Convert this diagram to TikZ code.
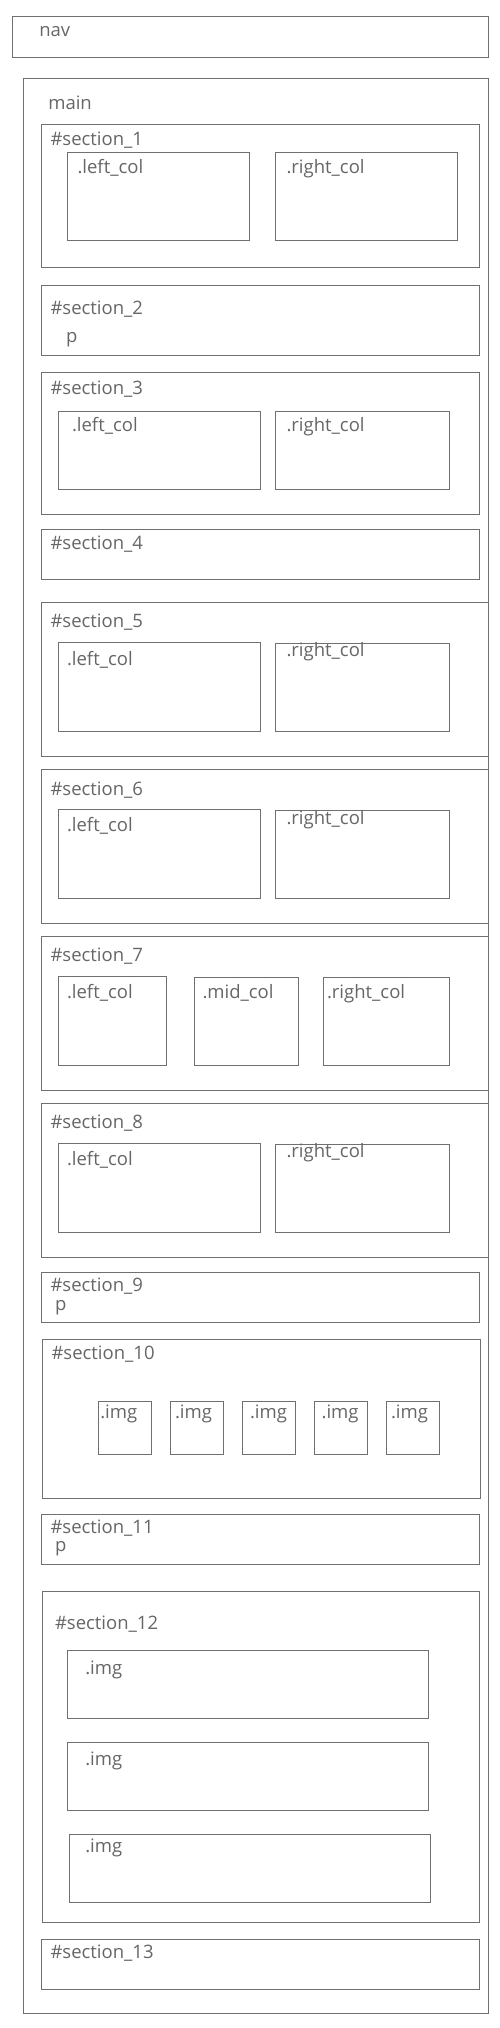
\documentclass[tikz,border=0pt]{standalone}
\usepackage{fontspec}
\setmainfont{Open Sans}
\definecolor{linegray}{HTML}{707070}
\definecolor{textgray}{HTML}{666666}
\tikzset{
  box/.style={draw=linegray, line width=1.1pt},
  lbl/.style={anchor=base west, inner sep=0pt, outer sep=0pt, text=textgray, font=\fontsize{18.5pt}{20pt}\selectfont},
}
\begin{document}
\begin{tikzpicture}[x=1pt,y=-1pt]
\useasboundingbox (0,0) rectangle (500,2028);
% nav
\draw[box] (12.3,16.3) rectangle (488.7,57.3);
\node[lbl] (navl) at (39.3,36.7) {nav};
% main
\draw[box] (23.3,78.7) rectangle (488.7,2013.3);
\node[lbl] (mainl) at (48.3,110) {main};
% section 1
\draw[box] (41.3,124.3) rectangle (479.7,267.3);
\node[lbl] (s1) at (50.5,146) {\#section\_1};
\draw[box] (67.3,152.7) rectangle (249.7,240.3);
\node[lbl] (s1l) at (77.5,174) {.left\_col};
\draw[box] (275.3,152.7) rectangle (457.7,240.3);
\node[lbl] (s1r) at (286.5,174) {.right\_col};
% section 2
\draw[box] (41.3,285.3) rectangle (479.7,355.3);
\node[lbl] (s2) at (50.5,314) {\#section\_2};
\node[lbl] (s2p) at (66,342) {p};
% section 3
\draw[box] (41.3,372.7) rectangle (479.7,514.3);
\node[lbl] (s3) at (50.5,394) {\#section\_3};
\draw[box] (58.3,411.7) rectangle (260.7,489.3);
\node[lbl] (s3l) at (72,431.3) {.left\_col};
\draw[box] (275.3,411.7) rectangle (449.7,489.3);
\node[lbl] (s3r) at (286.5,431.3) {.right\_col};
% section 4
\draw[box] (41.3,529.3) rectangle (479.7,579.3);
\node[lbl] (s4) at (50.5,549) {\#section\_4};
% section 5
\draw[box] (41.3,602.3) rectangle (488.7,756.3);
\node[lbl] (s5) at (50.5,627.7) {\#section\_5};
\draw[box] (58.3,642.7) rectangle (260.7,731.3);
\node[lbl] (s5l) at (67,665) {.left\_col};
\draw[box] (275.3,643.7) rectangle (449.7,731.3);
\node[lbl] (s5r) at (286.5,656.7) {.right\_col};
% section 6
\draw[box] (41.3,769.7) rectangle (488.7,923.3);
\node[lbl] (s6) at (50.5,795) {\#section\_6};
\draw[box] (58.3,809.7) rectangle (260.7,898.3);
\node[lbl] (s6l) at (67,831.7) {.left\_col};
\draw[box] (275.3,810.7) rectangle (449.7,898.3);
\node[lbl] (s6r) at (286.5,824) {.right\_col};
% section 7
\draw[box] (41.3,936.7) rectangle (488.7,1090.3);
\node[lbl] (s7) at (50.5,961.7) {\#section\_7};
\draw[box] (58.3,976.7) rectangle (166.7,1065.3);
\node[lbl] (s7l) at (67,998.3) {.left\_col};
\draw[box] (194.3,977.7) rectangle (298.7,1065.3);
\node[lbl] (s7m) at (202.5,998.3) {.mid\_col};
\draw[box] (323.3,977.7) rectangle (449.7,1065.3);
\node[lbl] (s7r) at (327,998.3) {.right\_col};
% section 8
\draw[box] (41.3,1103.7) rectangle (488.7,1257.3);
\node[lbl] (s8) at (50.5,1128.3) {\#section\_8};
\draw[box] (58.3,1143.3) rectangle (260.7,1232.3);
\node[lbl] (s8l) at (67,1165.7) {.left\_col};
\draw[box] (275.3,1144.3) rectangle (449.7,1232.3);
\node[lbl] (s8r) at (286.5,1157.7) {.right\_col};
% section 9
\draw[box] (41.3,1272.3) rectangle (479.7,1322.3);
\node[lbl] (s9) at (50.5,1291) {\#section\_9};
\node[lbl] (s9p) at (55,1310) {p};
% section 10
\draw[box] (42.3,1339.3) rectangle (480.7,1498.3);
\node[lbl] (s10) at (51.5,1359) {\#section\_10};
\draw[box] (98.3,1401.3) rectangle (151.7,1454.3);
\node[lbl] (s10a) at (100.3,1418.3) {.img};
\draw[box] (170.3,1401.3) rectangle (223.7,1454.3);
\node[lbl] (s10b) at (175,1418.3) {.img};
\draw[box] (242.3,1401.3) rectangle (295.7,1454.3);
\node[lbl] (s10c) at (250,1418.3) {.img};
\draw[box] (314.3,1401.3) rectangle (367.7,1454.3);
\node[lbl] (s10d) at (321.6,1418.3) {.img};
\draw[box] (386.3,1401.3) rectangle (439.7,1454.3);
\node[lbl] (s10e) at (391,1418.3) {.img};
% section 11
\draw[box] (41.3,1514.3) rectangle (479.7,1564.3);
\node[lbl] (s11) at (50.5,1533.3) {\#section\_11};
\node[lbl] (s11p) at (55,1551.7) {p};
% section 12
\draw[box] (42.3,1591.3) rectangle (479.7,1922.3);
\node[lbl] (s12) at (55,1629) {\#section\_12};
\draw[box] (67.3,1650.3) rectangle (428.7,1718.3);
\node[lbl] (s12a) at (85.3,1674.3) {.img};
\draw[box] (67.3,1742.3) rectangle (428.7,1810.3);
\node[lbl] (s12b) at (85.3,1765.7) {.img};
\draw[box] (69.3,1834.7) rectangle (430.7,1902.3);
\node[lbl] (s12c) at (85.3,1852.7) {.img};
% section 13
\draw[box] (41.3,1939.3) rectangle (479.7,1989.3);
\node[lbl] (s13) at (50.5,1958.3) {\#section\_13};
\end{tikzpicture}
\end{document}
